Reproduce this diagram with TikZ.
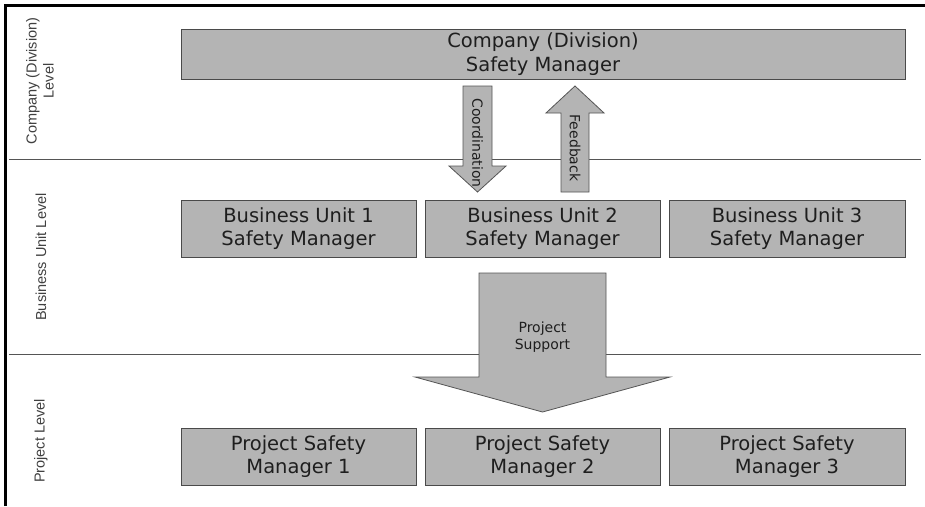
\documentclass[tikz,border=0pt]{standalone}
\usepackage{fontspec}
\setmainfont{DejaVu Sans}
\newfontfamily\lblfont{Liberation Sans}
\definecolor{boxfill}{HTML}{B4B4B4}
\definecolor{boxline}{HTML}{4A4A4A}
\definecolor{txt}{HTML}{1E1E1E}
\definecolor{sepline}{HTML}{555555}
\begin{document}
\begin{tikzpicture}[x=1pt,y=-1pt,
  mgrbox/.style={draw=boxline, fill=boxfill, line width=1pt, inner sep=0pt,
    align=center, text=txt, font=\fontsize{19.5}{23.5}\selectfont},
  bigarrow/.style={draw=sepline, fill=boxfill, line width=0.8pt, line join=miter},
  arrowlbl/.style={text=txt, font=\fontsize{14}{17}\selectfont, align=center, inner sep=0pt},
  levellbl/.style={text=black!75, font=\lblfont\fontsize{14.5}{17}\selectfont, align=center, rotate=90, inner sep=0pt},
  sep/.style={draw=sepline, line width=1pt}]
\useasboundingbox (0,0) rectangle (925,506);
\fill[white] (0,0) rectangle (925,506);

% frame
\draw[line width=3pt, black] (5.5,506) -- (5.5,5.5) -- (925,5.5);

% level separators
\coordinate (s1a) at (9,159);
\coordinate (s1b) at (921,159);
\coordinate (s2a) at (9,354);
\coordinate (s2b) at (921,354);
\draw[sep] (s1a) -- (s1b);
\draw[sep] (s2a) -- (s2b);

% level labels
\node[levellbl] (lc) at (40,81) {Company (Division)\\Level};
\node[levellbl] (lb) at (41,257) {Business Unit Level};
\node[levellbl] (lp) at (41,441) {Project Level};

% boxes
\node[mgrbox, minimum width=724pt, minimum height=50pt] (top) at (543,54) {Company (Division)\\Safety Manager};

\node[mgrbox, minimum width=235pt, minimum height=57pt] (bu1) at (298.5,228.5) {Business Unit 1\\Safety Manager};
\node[mgrbox, minimum width=235pt, minimum height=57pt] (bu2) at (542.5,228.5) {Business Unit 2\\Safety Manager};
\node[mgrbox, minimum width=236pt, minimum height=57pt] (bu3) at (787,228.5) {Business Unit 3\\Safety Manager};

\node[mgrbox, minimum width=235pt, minimum height=57pt] (p1) at (298.5,456.5) {Project Safety\\Manager 1};
\node[mgrbox, minimum width=235pt, minimum height=57pt] (p2) at (542.5,456.5) {Project Safety\\Manager 2};
\node[mgrbox, minimum width=236pt, minimum height=57pt] (p3) at (787,456.5) {Project Safety\\Manager 3};

% Coordination arrow (down)
\draw[bigarrow] (463,86) -- (492,86) -- (492,166) -- (506,166) -- (477.5,192)
  -- (449,166) -- (463,166) -- cycle;
\node[arrowlbl, rotate=-90] (coord) at (477.5,143) {Coordination};

% Feedback arrow (up)
\draw[bigarrow] (561,192) -- (589,192) -- (589,113) -- (604,113) -- (575,86)
  -- (546,113) -- (561,113) -- cycle;
\node[arrowlbl, rotate=-90] (feed) at (575,148) {Feedback};

% Project support arrow (down)
\draw[bigarrow] (479,273) -- (606,273) -- (606,377) -- (670,377) -- (542.5,412)
  -- (415,377) -- (479,377) -- cycle;
\node[arrowlbl] (ps) at (542.5,337) {Project\\Support};
\end{tikzpicture}
\end{document}
